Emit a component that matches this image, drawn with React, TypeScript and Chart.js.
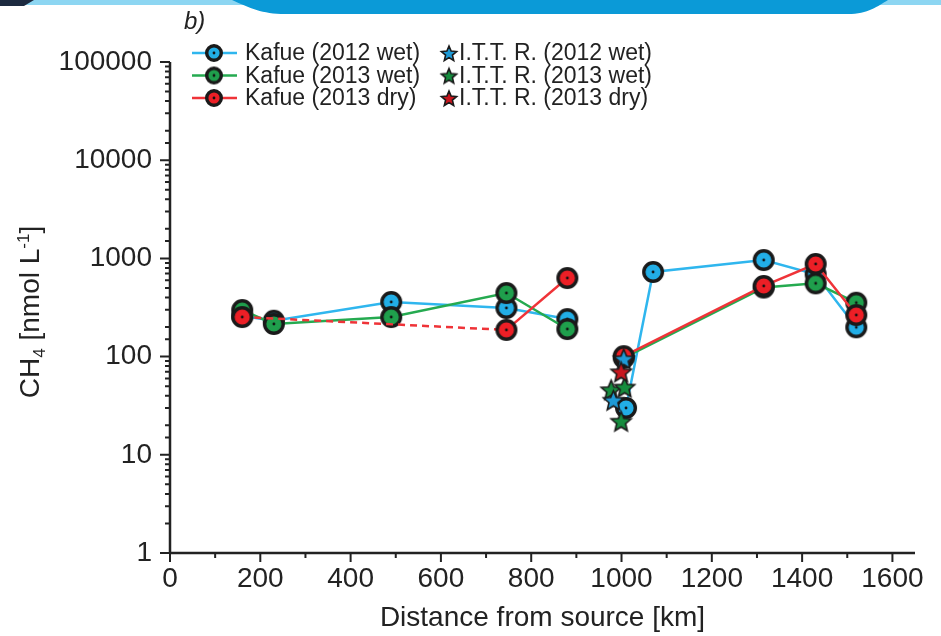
import React, { useEffect, useRef } from "react";
import { Chart, registerables } from "chart.js";

Chart.register(...registerables);

const FONT = "'Liberation Sans', Arial, Helvetica, sans-serif";
const TEXT = "#222222";

// ---- data (distance from source [km], CH4 [nmol L-1]); null = break in river line ----
const kafue2012WetKm = [160, 230, 490, 745, 880, 950, 1010, 1070, 1315, 1430, 1520];
const kafue2012WetCH4 = [259, 232, 360, 313, 241, null, 30, 727, 963, 690, 199];

const kafue2013WetKm = [160, 230, 490, 745, 880, 950, 1005, 1315, 1430, 1520];
const kafue2013WetCH4 = [298, 215, 253, 444, 191, null, 97, 505, 557, 354];

const kafue2013DryKm = [160, 745, 880, 950, 1005, 1315, 1430, 1520];
const kafue2013DryCH4 = [253, 187, 631, null, 101, 524, 877, 265];

const ittr2012WetKm = [1005, 982];
const ittr2012WetCH4 = [95, 36];

const ittr2013WetKm = [977, 1007, 999];
const ittr2013WetCH4 = [46, 49, 22];

const ittr2013DryKm = [999];
const ittr2013DryCH4 = [70];

const xTickLabels = [0, 200, 400, 600, 800, 1000, 1200, 1400, 1600];
const yTickLabels = [1, 10, 100, 1000, 10000, 100000];

const legendKafue = ["Kafue (2012 wet)", "Kafue (2013 wet)", "Kafue (2013 dry)"];
const legendIttr = ["I.T.T. R. (2012 wet)", "I.T.T. R. (2013 wet)", "I.T.T. R. (2013 dry)"];

const BLUE = "#22aee6";
const GREEN = "#1f9f4c";
const RED = "#ec1f26";
const BLUE_LINE = "#2fb6ee";
const GREEN_LINE = "#25aa50";
const RED_LINE = "#ef3338";
const STAR_BLUE = "#1e9ad6";
const STAR_GREEN = "#168c3e";
const STAR_RED = "#c8161e";

function circleImg(fill: string, r: number) {
  const size = Math.ceil(r * 2 + 4);
  const c = document.createElement("canvas");
  c.width = size;
  c.height = size;
  const g = c.getContext("2d")!;
  const m = size / 2;
  g.beginPath();
  g.arc(m, m, r - 1.7, 0, Math.PI * 2);
  g.fillStyle = fill;
  g.fill();
  g.lineWidth = 3.4;
  g.strokeStyle = "#1a1a1a";
  g.stroke();
  g.beginPath();
  g.arc(m, m, 1.4, 0, Math.PI * 2);
  g.fillStyle = "#111";
  g.fill();
  return c;
}

function starImg(fill: string, R: number) {
  const size = Math.ceil(R * 2 + 4);
  const c = document.createElement("canvas");
  c.width = size;
  c.height = size;
  const g = c.getContext("2d")!;
  const m = size / 2;
  const r = R * 0.45;
  g.beginPath();
  for (let i = 0; i < 10; i++) {
    const a = -Math.PI / 2 + (i * Math.PI) / 5;
    const rr = i % 2 === 0 ? R : r;
    const px = m + rr * Math.cos(a);
    const py = m + 1 + rr * Math.sin(a);
    if (i === 0) g.moveTo(px, py);
    else g.lineTo(px, py);
  }
  g.closePath();
  g.fillStyle = fill;
  g.fill();
  g.lineWidth = 1.6;
  g.strokeStyle = "#1a1a1a";
  g.stroke();
  return c;
}

const pts = (xs: number[], ys: (number | null)[]) => xs.map((x, i) => ({ x, y: ys[i] }));

const decorPlugin = {
  id: "decor",
  afterDraw(chart: any) {
    const { ctx, chartArea, scales } = chart;
    const xs = scales.x;
    const ys = scales.y;
    ctx.save();

    // top banner fragment
    ctx.fillStyle = "#8dd6f2";
    ctx.fillRect(0, 0, 941, 5);
    ctx.fillStyle = "#1d2a40";
    ctx.beginPath();
    ctx.moveTo(0, 0);
    ctx.lineTo(34, 0);
    ctx.lineTo(24, 6);
    ctx.lineTo(0, 6);
    ctx.closePath();
    ctx.fill();
    ctx.fillStyle = "#0b9ad7";
    ctx.beginPath();
    ctx.moveTo(232, 0);
    ctx.bezierCurveTo(250, 8, 262, 14, 285, 14);
    ctx.lineTo(848, 14);
    ctx.bezierCurveTo(868, 14, 878, 6, 888, 0);
    ctx.closePath();
    ctx.fill();

    // "b)"
    ctx.fillStyle = TEXT;
    ctx.font = `italic 24px ${FONT}`;
    ctx.textBaseline = "alphabetic";
    ctx.textAlign = "left";
    ctx.fillText("b)", 184, 29);

    // axes
    const left = chartArea.left;
    const bottom = chartArea.bottom;
    ctx.strokeStyle = TEXT;
    ctx.lineWidth = 2.5;
    ctx.beginPath();
    ctx.moveTo(left, chartArea.top);
    ctx.lineTo(left, bottom);
    ctx.moveTo(left, bottom);
    ctx.lineTo(chartArea.right, bottom);
    ctx.stroke();

    ctx.lineWidth = 2;
    ctx.beginPath();
    ys.ticks.forEach((t: any) => {
      const p = ys.getPixelForValue(t.value);
      const lg = Math.log10(t.value);
      const major = Math.abs(lg - Math.round(lg)) < 1e-9;
      const len = major ? 10 : 5;
      ctx.moveTo(left - len, p);
      ctx.lineTo(left, p);
    });
    xs.ticks.forEach((t: any) => {
      if (t.value % 100 !== 0) return;
      const p = xs.getPixelForValue(t.value);
      const len = t.value % 200 === 0 ? 9 : 5;
      ctx.moveTo(p, bottom);
      ctx.lineTo(p, bottom + len);
    });
    ctx.stroke();

    // y-axis title with sub/superscript
    ctx.save();
    ctx.translate(29, 312);
    ctx.rotate(-Math.PI / 2);
    const big = `28px ${FONT}`;
    const small = `17px ${FONT}`;
    const parts = [
      { t: "CH", f: big, dy: 0 },
      { t: "4", f: small, dy: 6 },
      { t: " [nmol L", f: big, dy: 0 },
      { t: "-1", f: small, dy: -10 },
      { t: "]", f: big, dy: 0 },
    ];
    let total = 0;
    parts.forEach((p) => {
      ctx.font = p.f;
      total += ctx.measureText(p.t).width;
    });
    let cx = -total / 2;
    ctx.fillStyle = TEXT;
    ctx.textBaseline = "alphabetic";
    parts.forEach((p) => {
      ctx.font = p.f;
      ctx.fillText(p.t, cx, 10 + p.dy);
      cx += ctx.measureText(p.t).width;
    });
    ctx.restore();

    // legend
    const rowsY = [53, 75.5, 98];
    const kafueCols = [BLUE, GREEN, RED];
    const kafueLines = [BLUE_LINE, GREEN_LINE, RED_LINE];
    const starCols = [STAR_BLUE, STAR_GREEN, STAR_RED];
    ctx.font = `23px ${FONT}`;
    ctx.textBaseline = "middle";
    rowsY.forEach((y, i) => {
      ctx.strokeStyle = kafueLines[i];
      ctx.lineWidth = 2.5;
      ctx.beginPath();
      ctx.moveTo(192, y);
      ctx.lineTo(237, y);
      ctx.stroke();
      const ci = circleImg(kafueCols[i], 9);
      ctx.drawImage(ci, 214 - ci.width / 2, y - ci.height / 2);
      ctx.fillStyle = TEXT;
      ctx.fillText(legendKafue[i], 245, y + 1);
      const si = starImg(starCols[i], 8);
      ctx.drawImage(si, 449 - si.width / 2, y - si.height / 2);
      ctx.fillStyle = TEXT;
      ctx.fillText(legendIttr[i], 459, y + 1);
    });

    ctx.restore();
  },
};

export default function App() {
  const ref = useRef<HTMLCanvasElement | null>(null);

  useEffect(() => {
    if (!ref.current) return;
    const cBlue = circleImg(BLUE, 11);
    const cGreen = circleImg(GREEN, 11);
    const cRed = circleImg(RED, 11);
    const sBlue = starImg(STAR_BLUE, 10.5);
    const sGreen = starImg(STAR_GREEN, 10.5);
    const sRed = starImg(STAR_RED, 10.5);

    const chart = new Chart(ref.current, {
      type: "line",
      data: {
        datasets: [
          {
            label: legendIttr[2],
            data: pts(ittr2013DryKm, ittr2013DryCH4),
            showLine: false,
            pointStyle: sRed as any,
            pointRadius: 10,
            order: 0,
          },
          {
            label: legendIttr[0],
            data: pts(ittr2012WetKm, ittr2012WetCH4),
            showLine: false,
            pointStyle: sBlue as any,
            pointRadius: 10,
            order: 1,
          },
          {
            label: legendIttr[1],
            data: pts(ittr2013WetKm, ittr2013WetCH4),
            showLine: false,
            pointStyle: sGreen as any,
            pointRadius: 10,
            order: 2,
          },
          {
            label: legendKafue[2],
            data: pts(kafue2013DryKm, kafue2013DryCH4),
            borderColor: RED_LINE,
            borderWidth: 2.5,
            pointStyle: cRed as any,
            pointRadius: 10,
            spanGaps: false,
            tension: 0,
            order: 3,
            segment: {
              borderDash: (c: any) => (c.p0DataIndex === 0 ? [7, 5] : undefined),
            },
          },
          {
            label: legendKafue[1],
            data: pts(kafue2013WetKm, kafue2013WetCH4),
            borderColor: GREEN_LINE,
            borderWidth: 2.5,
            pointStyle: cGreen as any,
            pointRadius: 10,
            spanGaps: false,
            tension: 0,
            order: 4,
          },
          {
            label: legendKafue[0],
            data: pts(kafue2012WetKm, kafue2012WetCH4),
            borderColor: BLUE_LINE,
            borderWidth: 2.5,
            pointStyle: cBlue as any,
            pointRadius: 10,
            spanGaps: false,
            tension: 0,
            order: 5,
          },
        ] as any,
      },
      options: {
        animation: false,
        responsive: false,
        events: [],
        layout: { padding: { top: 62, right: 26, left: 0, bottom: 0 } },
        plugins: {
          legend: { display: false },
          tooltip: { enabled: false },
          title: { display: false },
        },
        scales: {
          x: {
            type: "linear",
            min: 0,
            max: 1650,
            afterFit: (s: any) => {
              s.height = 83;
            },
            afterBuildTicks: (s: any) => {
              s.ticks = s.ticks.filter((t: any) => t.value % 100 === 0);
            },
            ticks: {
              stepSize: 100,
              includeBounds: false,
              autoSkip: false,
              maxRotation: 0,
              padding: 9,
              color: TEXT,
              font: { family: FONT, size: 28 },
              callback: (v: any) => (xTickLabels.includes(Number(v)) ? String(v) : ""),
            },
            grid: { display: false, drawTicks: false },
            border: { display: false },
            title: {
              display: true,
              text: "Distance from source [km]",
              color: TEXT,
              font: { family: FONT, size: 28 },
              padding: { top: 0, bottom: 1 },
            },
          },
          y: {
            type: "logarithmic",
            min: 1,
            max: 100000,
            afterFit: (s: any) => {
              s.width = 170;
            },
            ticks: {
              autoSkip: false,
              padding: 18,
              color: TEXT,
              font: { family: FONT, size: 28 },
              callback: (v: any) => (yTickLabels.includes(Number(v)) ? String(v) : ""),
            },
            grid: { display: false, drawTicks: false },
            border: { display: false },
          },
        },
      } as any,
      plugins: [decorPlugin],
    });
    return () => chart.destroy();
  }, []);

  return (
    <div style={{ position: "absolute", left: 0, top: 0, width: 941, height: 636, background: "#fff" }}>
      <canvas ref={ref} width={941} height={636} style={{ display: "block" }} />
    </div>
  );
}
